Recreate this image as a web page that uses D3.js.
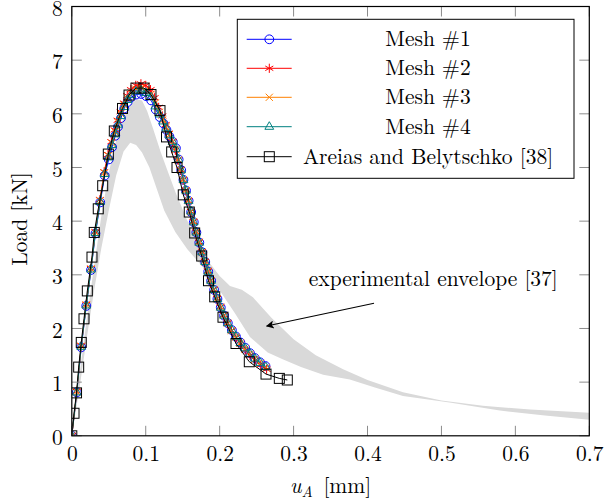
<!DOCTYPE html>
<html>
<head>
<meta charset="utf-8">
<script src="https://cdn.jsdelivr.net/npm/d3@7/dist/d3.min.js"></script>
<style>
  html, body { margin: 0; padding: 0; background: #fff; }
  svg { display: block; }
  text { font-family: 'Latin Modern Roman', 'CMU Serif', 'Liberation Serif', serif; fill: #000; }
</style>
</head>
<body>
<svg id="chart" width="605" height="504"></svg>
<script>
// Load–displacement curves [u_A in mm, load in kN]
const mesh1 = [[0,0],[0.0068,0.81],[0.0128,1.65],[0.0196,2.42],[0.026,3.09],[0.032,3.77],[0.0385,4.35],[0.0445,4.85],[0.050,5.15],[0.0545,5.38],[0.0588,5.59],[0.0625,5.76],[0.0665,5.92],[0.071,6.10],[0.0755,6.22],[0.0804,6.31],[0.087,6.36],[0.0939,6.37],[0.1005,6.33],[0.1074,6.25],[0.1135,6.08],[0.119,5.94],[0.124,5.82],[0.128,5.70],[0.132,5.58],[0.1365,5.48],[0.1408,5.36],[0.1445,5.15],[0.148,4.95],[0.151,4.77],[0.1545,4.57],[0.158,4.38],[0.1615,4.17],[0.165,3.98],[0.1685,3.79],[0.1725,3.60],[0.1765,3.42],[0.1805,3.24],[0.1845,3.06],[0.1885,2.89],[0.1925,2.72],[0.197,2.55],[0.2015,2.39],[0.206,2.24],[0.211,2.10],[0.2165,1.97],[0.222,1.85],[0.228,1.74],[0.2345,1.64],[0.241,1.54],[0.2475,1.45],[0.2545,1.37],[0.262,1.30]];
const mesh2 = [[0,0],[0.0068,0.83],[0.0128,1.68],[0.0195,2.45],[0.0258,3.12],[0.0318,3.80],[0.038,4.40],[0.0438,4.92],[0.049,5.24],[0.0535,5.48],[0.058,5.70],[0.062,5.88],[0.066,6.04],[0.0705,6.20],[0.075,6.34],[0.080,6.45],[0.0865,6.53],[0.0935,6.56],[0.100,6.53],[0.1065,6.45],[0.112,6.30],[0.1175,6.12],[0.1225,5.96],[0.127,5.80],[0.1315,5.64],[0.136,5.48],[0.140,5.32],[0.1435,5.14],[0.147,4.96],[0.1505,4.77],[0.154,4.58],[0.1575,4.38],[0.161,4.18],[0.1645,3.99],[0.168,3.80],[0.172,3.61],[0.176,3.43],[0.180,3.25],[0.184,3.07],[0.188,2.90],[0.192,2.73],[0.1965,2.56],[0.201,2.40],[0.2055,2.25],[0.2105,2.10],[0.216,1.96],[0.222,1.83],[0.228,1.71],[0.2345,1.60],[0.241,1.50],[0.248,1.41],[0.2555,1.32],[0.2635,1.24]];
const mesh3 = [[0,0],[0.0067,0.82],[0.0127,1.67],[0.0195,2.44],[0.0259,3.11],[0.0318,3.79],[0.0382,4.38],[0.044,4.90],[0.0495,5.22],[0.054,5.45],[0.0585,5.66],[0.0623,5.84],[0.0663,6.00],[0.0708,6.16],[0.0753,6.29],[0.0802,6.39],[0.0868,6.46],[0.0937,6.48],[0.1003,6.44],[0.107,6.36],[0.1128,6.20],[0.1182,6.03],[0.1232,5.89],[0.1275,5.75],[0.1318,5.61],[0.1362,5.47],[0.1404,5.33],[0.144,5.14],[0.1475,4.95],[0.1508,4.77],[0.1542,4.57],[0.1577,4.38],[0.1612,4.18],[0.1647,3.99],[0.1682,3.80],[0.1722,3.61],[0.1762,3.42],[0.1802,3.24],[0.1842,3.07],[0.1882,2.89],[0.1922,2.72],[0.1967,2.55],[0.2012,2.40],[0.2057,2.24],[0.2107,2.10],[0.2162,1.96],[0.222,1.84],[0.228,1.73],[0.2345,1.62],[0.241,1.52],[0.2478,1.43],[0.255,1.35],[0.2628,1.27]];
const mesh4 = [[0,0],[0.0067,0.81],[0.0127,1.66],[0.0196,2.43],[0.026,3.10],[0.0319,3.78],[0.0383,4.36],[0.0443,4.88],[0.0498,5.19],[0.0543,5.42],[0.0587,5.62],[0.0624,5.80],[0.0664,5.96],[0.0709,6.13],[0.0754,6.26],[0.0803,6.35],[0.0869,6.42],[0.0938,6.43],[0.1004,6.39],[0.1072,6.31],[0.113,6.14],[0.1186,5.99],[0.1236,5.86],[0.1278,5.73],[0.132,5.60],[0.1364,5.48],[0.1406,5.35],[0.1443,5.15],[0.1478,4.95],[0.151,4.77],[0.1544,4.57],[0.1579,4.38],[0.1614,4.18],[0.1649,3.98],[0.1684,3.79],[0.1724,3.60],[0.1764,3.42],[0.1804,3.24],[0.1844,3.06],[0.1884,2.89],[0.1924,2.72],[0.1969,2.55],[0.2014,2.39],[0.2059,2.24],[0.2109,2.10],[0.2164,1.97],[0.222,1.85],[0.228,1.73],[0.2345,1.63],[0.241,1.53],[0.2476,1.44],[0.2548,1.36],[0.2625,1.28]];
const areias = [[0,0],[0.003,0.42],[0.0064,0.80],[0.0093,1.28],[0.0128,1.74],[0.0165,2.18],[0.021,2.70],[0.0273,3.33],[0.0304,3.79],[0.0358,4.23],[0.0418,4.66],[0.0494,5.25],[0.0575,5.68],[0.0686,6.10],[0.0774,6.35],[0.0868,6.48],[0.0977,6.48],[0.1071,6.36],[0.1193,6.06],[0.1281,5.57],[0.1351,5.29],[0.1423,5.00],[0.1508,4.49],[0.1589,4.17],[0.1662,3.78],[0.1757,3.35],[0.1849,2.89],[0.1933,2.59],[0.2045,2.21],[0.2221,1.72],[0.2401,1.38],[0.2627,1.15],[0.2807,1.07],[0.2915,1.04]];

// Experimental envelope: upper and lower bounding curves
const envUpper = [[0,0],[0.005,0.55],[0.01,1.1],[0.02,2.15],[0.03,3.15],[0.04,4.1],[0.05,4.9],[0.06,5.5],[0.07,5.92],[0.08,6.18],[0.088,6.27],[0.095,6.25],[0.102,6.05],[0.11,5.72],[0.12,5.3],[0.13,4.92],[0.14,4.55],[0.155,4.05],[0.17,3.6],[0.185,3.25],[0.2,2.98],[0.214,2.79],[0.23,2.72],[0.245,2.58],[0.27,2.2],[0.30,1.8],[0.33,1.5],[0.367,1.24],[0.40,1.04],[0.448,0.81],[0.5,0.66],[0.556,0.56],[0.62,0.49],[0.70,0.43]];
const envLower = [[0,0],[0.01,0.85],[0.02,1.8],[0.03,2.7],[0.04,3.5],[0.05,4.2],[0.06,4.85],[0.07,5.3],[0.079,5.46],[0.087,5.42],[0.095,5.28],[0.105,5.0],[0.115,4.6],[0.125,4.2],[0.14,3.8],[0.156,3.48],[0.175,3.18],[0.196,2.79],[0.22,2.3],[0.241,1.84],[0.265,1.55],[0.286,1.42],[0.31,1.28],[0.34,1.14],[0.376,1.05],[0.41,0.9],[0.448,0.74],[0.511,0.62],[0.579,0.47],[0.64,0.38],[0.70,0.30]];

const xTicks = [0, 0.1, 0.2, 0.3, 0.4, 0.5, 0.6, 0.7];
const yTicks = [0, 1, 2, 3, 4, 5, 6, 7, 8];

const series = [
  { name: "Mesh #1", data: mesh1, color: "#0000ff", marker: "circle" },
  { name: "Mesh #2", data: mesh2, color: "#ff0000", marker: "asterisk" },
  { name: "Mesh #3", data: mesh3, color: "#ff8000", marker: "cross" },
  { name: "Mesh #4", data: mesh4, color: "#008080", marker: "triangle" },
  { name: "Areias and Belytschko [38]", data: areias, color: "#000000", marker: "square" }
];

const svg = d3.select("#chart");
const pLeft = 71.8, pRight = 589.3, pTop = 6.5, pBottom = 435.8;
const x = d3.scaleLinear().domain([0, 0.7]).range([pLeft, pRight]);
const y = d3.scaleLinear().domain([0, 8]).range([pBottom, pTop]);
const FS = 21.5;

const plot = svg.append("g");
plot.append("defs").append("clipPath").attr("id", "clip")
  .append("rect").attr("x", pLeft).attr("y", pTop).attr("width", pRight - pLeft).attr("height", pBottom - pTop);

// envelope band
const band = envUpper.concat(envLower.slice().reverse());
plot.append("path")
  .attr("clip-path", "url(#clip)")
  .attr("d", d3.line().x(d => x(d[0])).y(d => y(d[1]))(band) + "Z")
  .attr("fill", "#d9d9d9").attr("stroke", "none");

// annotation arrow and text
const defs = svg.append("defs");
defs.append("marker").attr("id", "arrowhead")
  .attr("viewBox", "0 0 10 10").attr("refX", 9).attr("refY", 5)
  .attr("markerWidth", 10).attr("markerHeight", 8).attr("markerUnits", "userSpaceOnUse")
  .attr("orient", "auto")
  .append("path").attr("d", "M0,0 L10,5 L0,10 L2.5,5 Z").attr("fill", "#000");
plot.append("line")
  .attr("x1", x(0.4088)).attr("y1", y(2.47))
  .attr("x2", x(0.2636)).attr("y2", y(2.046))
  .attr("stroke", "#000").attr("stroke-width", 1.1)
  .attr("marker-end", "url(#arrowhead)");
plot.append("text")
  .attr("x", x(0.489)).attr("y", y(2.79))
  .attr("text-anchor", "middle").attr("font-size", FS)
  .text("experimental envelope [37]");

// marker shapes
function drawMarker(g, type, color) {
  const s = g.append("g");
  if (type === "circle") {
    s.append("circle").attr("r", 4.4).attr("fill", "none").attr("stroke", color).attr("stroke-width", 1);
  } else if (type === "square") {
    s.append("rect").attr("x", -5).attr("y", -5).attr("width", 10).attr("height", 10)
      .attr("fill", "none").attr("stroke", color).attr("stroke-width", 1);
  } else if (type === "triangle") {
    s.append("path").attr("d", "M0,-5 L4.4,2.6 L-4.4,2.6 Z")
      .attr("fill", "none").attr("stroke", color).attr("stroke-width", 1);
  } else if (type === "cross") {
    s.append("path").attr("d", "M-3.6,-3.6 L3.6,3.6 M-3.6,3.6 L3.6,-3.6")
      .attr("stroke", color).attr("stroke-width", 1);
  } else if (type === "asterisk") {
    s.append("path").attr("d", "M0,-4.6 L0,4.6 M-4,-2.3 L4,2.3 M-4,2.3 L4,-2.3")
      .attr("stroke", color).attr("stroke-width", 1);
  }
  return s;
}

const line = d3.line().x(d => x(d[0])).y(d => y(d[1]));
series.forEach(sr => {
  const g = plot.append("g").attr("clip-path", "url(#clip)");
  g.append("path").attr("d", line(sr.data))
    .attr("fill", "none").attr("stroke", sr.color).attr("stroke-width", 1);
  sr.data.forEach(d => {
    drawMarker(g, sr.marker, sr.color).attr("transform", `translate(${x(d[0])},${y(d[1])})`);
  });
});

// axes: frame with inward ticks on all sides
const tickLen = 10;
const tickColor = "#8c8c8c";
const axG = svg.append("g");
xTicks.forEach(t => {
  axG.append("line").attr("x1", x(t)).attr("x2", x(t)).attr("y1", pBottom).attr("y2", pBottom - tickLen)
    .attr("stroke", tickColor).attr("stroke-width", 1);
  axG.append("line").attr("x1", x(t)).attr("x2", x(t)).attr("y1", pTop).attr("y2", pTop + tickLen)
    .attr("stroke", tickColor).attr("stroke-width", 1);
});
yTicks.forEach(t => {
  axG.append("line").attr("x1", pLeft).attr("x2", pLeft + tickLen).attr("y1", y(t)).attr("y2", y(t))
    .attr("stroke", tickColor).attr("stroke-width", 1);
  axG.append("line").attr("x1", pRight).attr("x2", pRight - tickLen).attr("y1", y(t)).attr("y2", y(t))
    .attr("stroke", tickColor).attr("stroke-width", 1);
});
axG.append("rect").attr("x", pLeft).attr("y", pTop).attr("width", pRight - pLeft).attr("height", pBottom - pTop)
  .attr("fill", "none").attr("stroke", "#000").attr("stroke-width", 1.2);

// tick labels via d3 axes (lines hidden, labels kept)
const xAxis = svg.append("g").attr("transform", `translate(0,${pBottom})`)
  .call(d3.axisBottom(x).tickValues(xTicks).tickSize(0).tickPadding(0).tickFormat(d => d === 0 ? "0" : d3.format(".1f")(d)));
xAxis.select(".domain").remove();
xAxis.selectAll("text").attr("font-size", FS).attr("font-family", null).attr("dy", null).attr("y", 25);

const yAxis = svg.append("g").attr("transform", `translate(${pLeft},0)`)
  .call(d3.axisLeft(y).tickValues(yTicks).tickSize(0).tickPadding(0).tickFormat(d3.format("d")));
yAxis.select(".domain").remove();
yAxis.selectAll("text").attr("font-size", FS).attr("font-family", null).attr("x", -9).attr("dy", "0.41em");

// axis titles
const xl = svg.append("text").attr("x", (pLeft + pRight) / 2).attr("y", 493).attr("text-anchor", "middle").attr("font-size", FS);
xl.append("tspan").attr("font-style", "italic").text("u");
xl.append("tspan").attr("font-style", "italic").attr("font-size", FS * 0.7).attr("dy", 4).text("A");
xl.append("tspan").attr("dy", -4).text("\u2002[mm]");

svg.append("text").attr("transform", `translate(27,219) rotate(-90)`)
  .attr("text-anchor", "middle").attr("font-size", FS).text("Load [kN]");

// legend
const lg = svg.append("g");
lg.append("rect").attr("x", 237.3).attr("y", 19.3).attr("width", 336.7).attr("height", 159)
  .attr("fill", "#fff").attr("stroke", "#000").attr("stroke-width", 1);
const rowY = [39.3, 68.3, 97.3, 126.7, 156.7];
series.forEach((sr, i) => {
  const cy = rowY[i];
  lg.append("line").attr("x1", 246.7).attr("x2", 291.7).attr("y1", cy).attr("y2", cy)
    .attr("stroke", sr.color).attr("stroke-width", 1);
  drawMarker(lg, sr.marker, sr.color).attr("transform", `translate(269.3,${cy})`);
  lg.append("text").attr("x", 428).attr("y", cy + 7).attr("text-anchor", "middle")
    .attr("font-size", FS).text(sr.name);
});
</script>
</body>
</html>
